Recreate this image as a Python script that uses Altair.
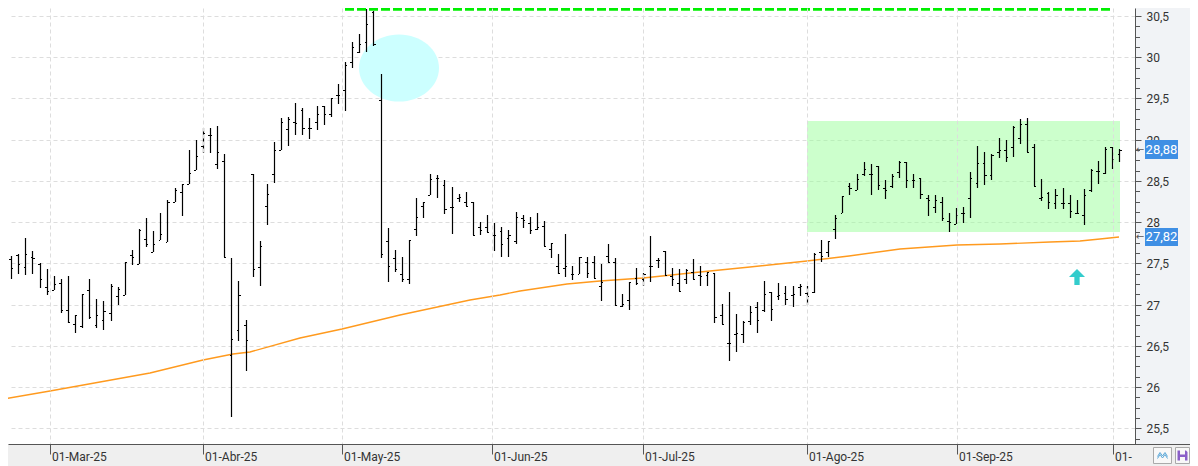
import altair as alt
import pandas as pd

# daily OHLC (one value per session)
highs = [27.66, 27.59, 27.62, 27.81, 27.65, 27.50, 27.43, 27.35, 27.31, 27.35,
         26.87, 27.13, 27.31, 27.07, 27.04, 27.25, 27.21, 27.52, 27.66, 27.92,
         28.05, 27.89, 28.11, 28.27, 28.42, 28.46, 28.88, 29.00, 29.14, 29.14,
         29.17, 28.83, 27.56, 27.29, 26.81, 28.58, 27.77, 28.46, 28.97, 29.26,
         29.28, 29.45, 29.38, 29.26, 29.41, 29.41, 29.50, 29.68, 29.94, 30.18,
         30.28, 30.58, 30.56, 29.80, 27.93, 27.66, 27.58, 27.78, 28.29, 28.24,
         28.58, 28.57, 28.51, 28.43, 28.34, 28.36, 28.24, 28.00, 28.09, 27.99,
         27.94, 27.90, 28.12, 28.09, 28.06, 28.11, 28.01, 27.75, 27.62, 27.86,
         27.47, 27.58, 27.58, 27.59, 27.49, 27.74, 27.56, 27.13, 27.28, 27.44,
         27.38, 27.83, 27.56, 27.65, 27.44, 27.43, 27.43, 27.55, 27.47, 27.39,
         27.38, 27.01, 27.15, 26.89, 26.80, 26.98, 27.03, 27.29, 27.15, 27.26,
         27.23, 27.22, 27.25, 27.22, 27.63, 27.78, 27.77, 28.09, 28.32, 28.48,
         28.58, 28.73, 28.70, 28.68, 28.51, 28.58, 28.74, 28.73, 28.58, 28.54,
         28.33, 28.33, 28.30, 28.11, 28.17, 28.18, 28.61, 28.92, 28.85, 28.83,
         29.02, 29.00, 29.17, 29.25, 29.26, 28.95, 28.52, 28.36, 28.40, 28.42,
         28.33, 28.27, 28.40, 28.64, 28.74, 28.91, 28.91, 28.89]
lows = [27.44, 27.31, 27.37, 27.36, 27.37, 27.20, 27.12, 27.18, 26.90, 26.78,
        26.66, 26.72, 26.82, 26.72, 26.69, 26.80, 27.00, 27.12, 27.48, 27.49,
        27.70, 27.64, 27.78, 27.76, 28.24, 28.08, 28.46, 28.63, 28.84, 28.84,
        28.64, 27.58, 25.64, 26.56, 26.20, 27.34, 27.22, 27.96, 28.48, 28.88,
        28.92, 29.06, 29.06, 29.01, 29.12, 29.18, 29.28, 29.43, 29.35, 29.87,
        30.05, 30.06, 30.14, 27.56, 27.28, 27.40, 27.28, 27.25, 27.83, 28.05,
        28.33, 28.29, 28.10, 27.86, 28.24, 28.20, 27.84, 27.84, 27.88, 27.65,
        27.58, 27.58, 27.74, 27.93, 27.86, 27.90, 27.71, 27.56, 27.37, 27.34,
        27.30, 27.37, 27.32, 27.32, 27.04, 27.52, 27.00, 26.97, 26.94, 27.24,
        27.22, 27.28, 27.44, 27.36, 27.22, 27.16, 27.25, 27.31, 27.23, 27.22,
        26.78, 26.76, 26.32, 26.42, 26.54, 26.75, 26.66, 26.91, 26.80, 27.06,
        27.00, 26.97, 27.10, 27.00, 27.14, 27.52, 27.58, 27.80, 28.11, 28.33,
        28.39, 28.56, 28.33, 28.39, 28.28, 28.42, 28.54, 28.42, 28.42, 28.28,
        28.08, 28.11, 28.02, 27.88, 27.98, 27.99, 28.05, 28.42, 28.45, 28.51,
        28.78, 28.73, 28.79, 28.95, 28.85, 28.44, 28.26, 28.16, 28.16, 28.16,
        28.05, 28.11, 27.96, 28.36, 28.46, 28.58, 28.64, 28.73]
opens = [27.66, 27.55, 27.60, 27.46, 27.58, 27.49, 27.21, 27.18, 27.26, 26.94,
         26.76, 26.74, 27.18, 26.75, 26.81, 26.90, 27.10, 27.12, 27.60, 27.49,
         27.80, 27.64, 27.78, 27.76, 28.24, 28.36, 28.46, 28.63, 28.92, 29.06,
         28.70, 28.74, 26.39, 26.69, 26.75, 28.58, 27.46, 28.20, 28.58, 28.88,
         29.13, 29.22, 29.36, 29.14, 29.22, 29.41, 29.31, 29.54, 29.60, 29.94,
         30.06, 30.18, 30.55, 29.48, 27.77, 27.56, 27.37, 27.31, 27.92, 28.20,
         28.33, 28.54, 28.45, 28.18, 28.29, 28.24, 28.24, 27.94, 27.94, 27.85,
         27.89, 27.81, 27.77, 28.05, 27.99, 27.92, 27.95, 27.67, 27.47, 27.44,
         27.37, 27.37, 27.52, 27.52, 27.22, 27.59, 27.52, 26.98, 27.06, 27.32,
         27.31, 27.47, 27.54, 27.65, 27.35, 27.26, 27.31, 27.40, 27.36, 27.36,
         27.38, 26.87, 26.53, 26.64, 26.64, 26.80, 26.97, 26.93, 27.15, 27.10,
         27.14, 27.12, 27.21, 27.14, 27.15, 27.64, 27.64, 27.92, 28.11, 28.44,
         28.39, 28.58, 28.58, 28.68, 28.42, 28.44, 28.61, 28.73, 28.51, 28.54,
         28.29, 28.18, 28.25, 28.01, 27.98, 28.11, 28.29, 28.48, 28.72, 28.57,
         28.85, 28.88, 28.91, 29.02, 29.19, 28.91, 28.29, 28.35, 28.23, 28.23,
         28.23, 28.11, 28.09, 28.39, 28.62, 28.60, 28.91, 28.83]
closes = [27.52, 27.44, 27.49, 27.62, 27.56, 27.31, 27.16, 27.25, 26.94, 26.79,
          26.87, 27.13, 26.85, 26.87, 26.92, 27.23, 27.19, 27.52, 27.58, 27.90,
          27.74, 27.74, 27.86, 28.24, 28.39, 28.46, 28.60, 28.80, 29.08, 29.06,
          28.85, 27.58, 26.58, 27.12, 26.57, 27.43, 27.71, 28.34, 28.88, 29.22,
          29.25, 29.20, 29.14, 29.14, 29.31, 29.31, 29.50, 29.54, 29.90, 30.12,
          30.16, 30.40, 30.16, 27.62, 27.47, 27.43, 27.31, 27.78, 28.06, 28.24,
          28.52, 28.54, 28.16, 28.18, 28.31, 28.20, 27.84, 27.90, 27.88, 27.85,
          27.73, 27.85, 28.06, 28.03, 27.90, 27.94, 27.71, 27.75, 27.38, 27.47,
          27.37, 27.58, 27.38, 27.32, 27.28, 27.52, 27.00, 27.01, 27.28, 27.26,
          27.37, 27.47, 27.54, 27.36, 27.31, 27.16, 27.42, 27.31, 27.35, 27.39,
          26.85, 26.76, 26.54, 26.65, 26.79, 26.91, 26.81, 27.13, 26.95, 27.12,
          27.07, 27.13, 27.22, 27.10, 27.62, 27.59, 27.77, 28.05, 28.32, 28.42,
          28.52, 28.64, 28.58, 28.45, 28.39, 28.56, 28.73, 28.51, 28.51, 28.34,
          28.27, 28.27, 28.05, 28.00, 28.09, 28.11, 28.54, 28.72, 28.57, 28.82,
          28.88, 28.79, 29.16, 29.19, 28.85, 28.44, 28.31, 28.25, 28.33, 28.23,
          28.14, 28.11, 28.33, 28.63, 28.62, 28.89, 28.76, 28.88]

# moving average, read at a few sessions along the line
sma_idx = [0, 6.5, 13.5, 20.5, 28, 32.2, 34.6, 41.7, 47.6, 55.7, 65.6, 69.8, 72.6, 79.3,
           83.9, 89.9, 98, 105, 113, 119, 126.1, 134.1, 140.2, 147.2, 151.5, 154.3, 157]
sma_val = [25.86, 25.95, 26.06, 26.17, 26.33, 26.40, 26.43, 26.59, 26.71, 26.87, 27.06, 27.12, 27.16, 27.25,
           27.29, 27.32, 27.39, 27.46, 27.53, 27.59, 27.67, 27.72, 27.74, 27.76, 27.77, 27.79, 27.82]

month_idx = [6.54, 28, 47.6, 68.7, 89.9, 113, 134.1, 156.1]
month_labels = ['01-Mar-25', '01-Abr-25', '01-May-25', '01-Jun-25', '01-Jul-25', '01-Ago-25', '01-Sep-25', '01-']

price_ticks = [25.5, 26, 26.5, 27, 27.5, 28, 28.5, 29, 29.5, 30, 30.5]
minor_ticks = [25.375, 25.625, 25.75, 25.875, 26.125, 26.25, 26.375, 26.625, 26.75, 26.875,
               27.125, 27.25, 27.375, 27.625, 27.75, 27.875, 28.125, 28.25, 28.375, 28.625,
               28.75, 28.875, 29.125, 29.25, 29.375, 29.625, 29.75, 29.875, 30.125, 30.25,
               30.375]

last_vals = [28.88, 27.82]
last_labels = ['28,88', '27,82']

AXIS_COL = '#555555'
FONT = 'Roboto'

bars = pd.DataFrame({'idx': list(range(len(highs))), 'high': highs, 'low': lows, 'open': opens, 'close': closes})
sma = pd.DataFrame({'idx': sma_idx, 'val': sma_val})
months = pd.DataFrame({'idx': month_idx, 'label': month_labels})
minors = pd.DataFrame({'val': minor_ticks})
lasts = pd.DataFrame({'val': last_vals, 'label': last_labels})
one = pd.DataFrame({'a': [1]})

xs = alt.Scale(domain=[0.563, 159.2], nice=False, zero=False, round=True)
ys = alt.Scale(domain=[25.31, 30.597], nice=False, zero=False, round=True)

xaxis = alt.Axis(values=month_idx, labels=False, title=None, grid=True, gridColor='#dddddd', gridDash=[4, 3],
                 tickSize=10, tickColor=AXIS_COL, domainColor=AXIS_COL, zindex=1)
yaxis = alt.Axis(values=price_ticks, orient='right', title=None, grid=True, gridColor='#dddddd', gridDash=[4, 3],
                 tickSize=6, tickColor=AXIS_COL, domainColor=AXIS_COL, labelPadding=5, labelFont=FONT,
                 labelFontSize=12, labelColor='#333333',
                 labelExpr="replace(format(datum.value, '.1~f'), '.', ',')")


def xe(field):
    return alt.X(field, scale=xs, axis=xaxis)


def ye(field):
    return alt.Y(field, scale=ys, axis=yaxis)


# green range box
box = alt.Chart(pd.DataFrame({'x0': [113], 'x1': [157.1], 'y0': [27.884], 'y1': [29.226]})).mark_rect(
    color='#99ff99', opacity=0.5
).encode(x=xe('x0:Q'), x2='x1:Q', y=ye('y0:Q'), y2='y1:Q')

ellipse = alt.Chart(pd.DataFrame({'idx': [55.6], 'val': [29.875]})).mark_point(
    shape='M -1 0 A 1 0.84 0 1 0 1 0 A 1 0.84 0 1 0 -1 0 Z', size=6400, filled=True,
    color='#ccffff', opacity=1
).encode(x=xe('idx:Q'), y=ye('val:Q'))

ma_line = alt.Chart(sma).mark_line(color='#ff9a1e', strokeWidth=1.4).encode(x=xe('idx:Q'), y=ye('val:Q'))

stems = alt.Chart(bars).mark_rule(color='black', strokeWidth=1.2, xOffset=0.5).encode(
    x=xe('idx:Q'), y=ye('low:Q'), y2='high:Q'
)

open_ticks = alt.Chart(bars).transform_calculate(left='datum.idx - 0.25').mark_rule(
    color='black', strokeWidth=1, yOffset=0.5
).encode(x=xe('left:Q'), x2='idx:Q', y=ye('open:Q'))

close_ticks = alt.Chart(bars).transform_calculate(right='datum.idx + 0.3').mark_rule(
    color='black', strokeWidth=1, yOffset=0.5
).encode(x=xe('idx:Q'), x2='right:Q', y=ye('close:Q'))

resist = alt.Chart(pd.DataFrame({'x0': [48], 'x1': [155.8], 'val': [30.58]})).mark_rule(
    color='#00ee00', strokeWidth=3.5, strokeDash=[9, 3]
).encode(x=xe('x0:Q'), x2='x1:Q', y=ye('val:Q'))

arrow = alt.Chart(pd.DataFrame({'idx': [151.1], 'val': [27.335]})).mark_point(
    shape='M 0 -1 L 1 0 L 0.33 0 L 0.33 1 L -0.33 1 L -0.33 0 L -1 0 Z', size=256, filled=True,
    color='#33cccc', opacity=1
).encode(x=xe('idx:Q'), y=ye('val:Q'))

# bottom date strip and frame
strip = alt.Chart(one).mark_rect(color='#efefef').encode(
    x=alt.value(0), x2=alt.value(1182), y=alt.value(436.5), y2=alt.value(458)
)
strip_line = alt.Chart(one).mark_rule(color=AXIS_COL, strokeWidth=1).encode(
    x=alt.value(1127), x2=alt.value(1182), y=alt.value(436.5)
)
month_text = alt.Chart(months).mark_text(
    align='left', baseline='middle', dx=2, font=FONT, fontSize=12, color='#333333'
).encode(x=xe('idx:Q'), y=alt.value(448.5), text='label:N')

minor_rules = alt.Chart(minors).mark_rule(color=AXIS_COL, strokeWidth=1, yOffset=0.5).encode(
    x=alt.value(1127), x2=alt.value(1132), y=ye('val:Q')
)

# last value flags
flag = alt.Chart(lasts).transform_calculate(y0='datum.val - 0.112', y1='datum.val + 0.112').mark_rect(
    color='#3f8fe4'
).encode(x=alt.value(1137), x2=alt.value(1170), y=ye('y0:Q'), y2='y1:Q')
flag_text = alt.Chart(lasts).mark_text(font=FONT, fontSize=13, color='white').encode(
    x=alt.value(1153.5), y=ye('val:Q'), text='label:N'
)
flag_arrow = alt.Chart(lasts).mark_text(font='DejaVu Sans', fontSize=10, color=AXIS_COL).encode(
    x=alt.value(1132), y=ye('val:Q'), text=alt.value('←')
)

# little toolbar buttons, bottom right
btn1 = alt.Chart(one).mark_rect(fill='#f8f8f8', stroke='#aaaaaa', strokeWidth=1).encode(
    x=alt.value(1145.5), x2=alt.value(1163.5), y=alt.value(439.5), y2=alt.value(455.5)
)
btn2 = alt.Chart(one).mark_rect(fill='#f8f8f8', stroke='#aaaaaa', strokeWidth=1).encode(
    x=alt.value(1167.5), x2=alt.value(1181.5), y=alt.value(439.5), y2=alt.value(455.5)
)
zigzag = alt.Chart(one).mark_point(
    shape='M -1 0.3 L -0.5 -0.5 L 0 0.2 L 0.5 -0.5 L 1 0.3 M -1 0.7 L -0.5 -0.1 L 0 0.6 L 0.5 -0.1 L 1 0.7',
    size=100, color='#5aa7d8', strokeWidth=1, opacity=1
).encode(x=alt.value(1154.5), y=alt.value(447))
floppy = alt.Chart(one).mark_point(
    shape='M -1 -1 L 0.7 -1 L 1 -0.7 L 1 1 L -1 1 Z M -0.5 -1 L -0.5 -0.2 L 0.5 -0.2 L 0.5 -1 Z M -0.5 0.3 L -0.5 1 L 0.5 1 L 0.5 0.3 Z',
    size=100, filled=True, color='#8a5fc8', opacity=1
).encode(x=alt.value(1174.5), y=alt.value(447.5))

chart = alt.layer(
    box, ellipse, ma_line, stems, open_ticks, close_ticks, resist, arrow,
    strip, strip_line, month_text, minor_rules, flag, flag_text, flag_arrow,
    btn1, btn2, zigzag, floppy
).properties(
    width=1127,
    height=436,
    background='#f1f3f6',
    padding={'left': 0, 'top': 0, 'right': 55, 'bottom': 22},
    autosize=alt.AutoSizeParams(type='none')
).configure_view(fill='white', stroke=None)

chart.save("out.html", embed_options={"renderer": "svg", "actions": False})
